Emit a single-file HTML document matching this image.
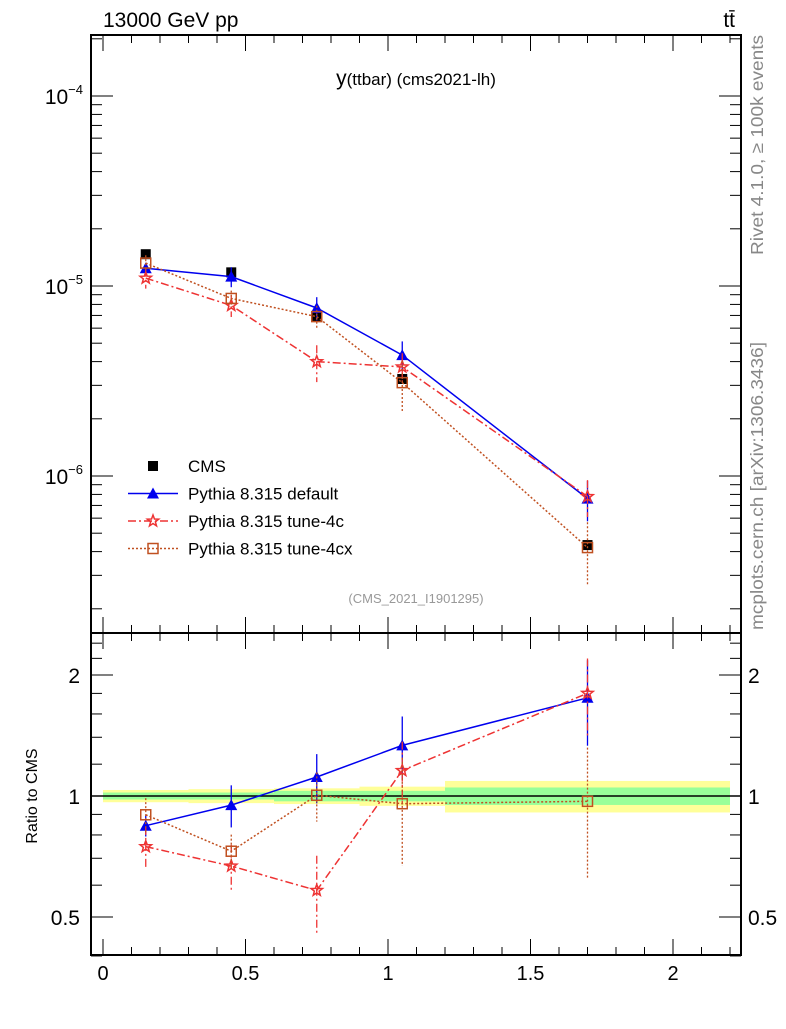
<!DOCTYPE html>
<html><head><meta charset="utf-8"><style>
body{margin:0;background:#fff;width:786px;height:1024px;overflow:hidden}
svg{font-family:"Liberation Sans",sans-serif}
</style></head><body>
<svg id="plot" width="786" height="1024" viewBox="0 0 786 1024">
<text x="103" y="27" font-size="21">13000 GeV pp</text>
<text x="735" y="27" font-size="21" text-anchor="end">tt̄</text>
<text x="416" y="85" font-size="17" text-anchor="middle"><tspan font-size="21">y</tspan>(ttbar) (cms2021-lh)</text>
<text x="416" y="603" font-size="13" fill="#999" text-anchor="middle">(CMS_2021_I1901295)</text>
<text transform="translate(763,255) rotate(-90)" font-size="17.5" fill="#888" textLength="220" lengthAdjust="spacingAndGlyphs">Rivet 4.1.0, ≥ 100k events</text>
<text transform="translate(763,630) rotate(-90)" font-size="17.5" fill="#888" textLength="288" lengthAdjust="spacingAndGlyphs">mcplots.cern.ch [arXiv:1306.3436]</text>
<text transform="translate(37,796) rotate(-90)" font-size="16" text-anchor="middle">Ratio to CMS</text>
<g id="g"></g>
</svg>
<script>
const xCenters=[0.15,0.45,0.75,1.05,1.7];
const binEdges=[0,0.3,0.6,0.9,1.2,2.2];
const cmsVals=[1.47e-5,1.18e-5,6.87e-6,3.24e-6,4.33e-7];
const defVals=[1.24e-5,1.12e-5,7.66e-6,4.33e-6,7.6e-7];
const c4Vals=[1.10e-5,7.9e-6,4.0e-6,3.75e-6,7.8e-7];
const cxVals=[1.32e-5,8.6e-6,6.9e-6,3.1e-6,4.2e-7];
const defErr=[0.06,0.12,0.14,0.18,0.24];
const c4Err=[0.12,0.13,0.22,0.18,0.22];
const cxErr=[0.1,0.1,0.14,0.3,0.36];
const bandStat=[0.02,0.02,0.03,0.03,0.05];
const bandTot=[0.035,0.04,0.045,0.055,0.09];
const xTicks=[0,0.5,1,1.5,2];
const ratioTicks=[0.5,1,2];

const NS="http://www.w3.org/2000/svg";
const G=document.getElementById('g');
function el(t,a,p){const e=document.createElementNS(NS,t);for(const k in a)e.setAttribute(k,a[k]);(p||G).appendChild(e);return e;}
const L=91,R=741,T=35,M=633,B=955;
const X=v=>103+v*285;
const Y=v=>96-(Math.log10(v)+4)*190;
const YR=v=>796-Math.log2(v)*121;

for(let i=0;i<5;i++){
 const x0=X(binEdges[i]),x1=X(binEdges[i+1]);
 const b=el('rect',{x:x0,y:YR(1+bandTot[i]),width:x1-x0,height:YR(1-bandTot[i])-YR(1+bandTot[i]),fill:'#ffff99'});
 
 
 const s=el('rect',{x:x0,y:YR(1+bandStat[i]),width:x1-x0,height:YR(1-bandStat[i])-YR(1+bandStat[i]),fill:'#99ff99'});
 
 
}
el('line',{x1:L,x2:R,y1:YR(1),y2:YR(1),stroke:'#000','stroke-width':1.5});

for(const [t,b] of [[T,M],[M,B]]){
 const f=el('rect',{x:L,y:t,width:R-L,height:b-t,fill:'none',stroke:'#000','stroke-width':2});
 
 
}
for(let v=0;v<=2.2001;v+=0.1){
 const maj=Math.abs(v*2-Math.round(v*2))<1e-6, len=maj?16:8;
 for(const [t,b] of [[T,M],[M,B]]){
  el('line',{x1:X(v),x2:X(v),y1:b,y2:b-len,stroke:'#000'});
  el('line',{x1:X(v),x2:X(v),y1:t,y2:t+len,stroke:'#000'});
 }
}
xTicks.forEach(v=>{const t=el('text',{x:X(v),y:980,'font-size':20,'text-anchor':'middle'});t.textContent=v;
 });
for(let d=-7;d<=-4;d++)for(let m=1;m<10;m++){
 const v=m*Math.pow(10,d),y=Y(v); if(y<T||y>M)continue;
 const len=m==1?22:11;
 el('line',{x1:L,x2:L+len,y1:y,y2:y,stroke:'#000'});el('line',{x1:R,x2:R-len,y1:y,y2:y,stroke:'#000'});
 if(m==1){const t=el('text',{x:83,y:y+8,'font-size':21,'text-anchor':'end'});t.innerHTML='10<tspan dy="-10" font-size="13">−'+(-d)+'</tspan>';
  }
}
[0.4,0.6,0.7,0.8,0.9,1.2,1.4,1.6,1.8,2.2,2.4].forEach(v=>{const y=YR(v);
 el('line',{x1:L,x2:L+11,y1:y,y2:y,stroke:'#000'});el('line',{x1:R,x2:R-11,y1:y,y2:y,stroke:'#000'});});
ratioTicks.forEach(v=>{const y=YR(v);
 el('line',{x1:L,x2:L+22,y1:y,y2:y,stroke:'#000'});el('line',{x1:R,x2:R-22,y1:y,y2:y,stroke:'#000'});
 const t=el('text',{x:80,y:y+8,'font-size':21,'text-anchor':'end'});t.textContent=v;
 
 const t2=el('text',{x:748,y:y+8,'font-size':21});t2.textContent=v;
 });

function marker(kind,x,y,col,name){
 let m;
 if(kind=='sq')m=el('rect',{x:x-5,y:y-5,width:10,height:10,fill:'#000'});
 if(kind=='tri')m=el('path',{d:`M${x} ${y-6}L${x+6} ${y+5}L${x-6} ${y+5}Z`,fill:col});
 if(kind=='osq')m=el('rect',{x:x-5,y:y-5,width:10,height:10,fill:'none',stroke:col,'stroke-width':1.5});
 if(kind=='star'){let p='';for(let i=0;i<10;i++){const r=i%2?2.5:6,a=-Math.PI/2+i*Math.PI/5;p+=(i?'L':'M')+(x+r*Math.cos(a))+' '+(y+r*Math.sin(a));}
  m=el('path',{d:p+'Z',fill:'none',stroke:col,'stroke-width':1.5});}
 
 
}
const series=[
 {vals:defVals,err:defErr,col:'#0000ee',dash:'',kind:'tri',name:'default'},
 {vals:c4Vals,err:c4Err,col:'#ee3333',dash:'8,3,2,3',kind:'star',name:'tune-4c'},
 {vals:cxVals,err:cxErr,col:'#c05020',dash:'2,2',kind:'osq',name:'tune-4cx'}];
cmsVals.forEach((v,i)=>marker('sq',X(xCenters[i]),Y(v),'#000','cms-point'));
series.forEach(s=>{
 for(const panel of ['main','ratio']){
  const yv=i=>panel=='main'?Y(s.vals[i]):YR(s.vals[i]/cmsVals[i]);
  const yr=(i,f)=>panel=='main'?Y(s.vals[i]*f):YR(s.vals[i]/cmsVals[i]*f);
  const ln=el('polyline',{points:xCenters.map((x,i)=>X(x)+','+yv(i)).join(' '),fill:'none',stroke:s.col,'stroke-width':1.5,'stroke-dasharray':s.dash});
  
  
  xCenters.forEach((x,i)=>{
   const e=el('line',{x1:X(x),x2:X(x),y1:yr(i,1+s.err[i]),y2:yr(i,1-s.err[i]),stroke:s.col,'stroke-width':1.3,'stroke-dasharray':s.dash});
   
   
   marker(s.kind,X(x),yv(i),s.col,s.name+'-'+panel+'-point');
  });
 }
});
const leg=[['CMS','sq','#000',''],['Pythia 8.315 default','tri','#0000ee',''],['Pythia 8.315 tune-4c','star','#ee3333','8,3,2,3'],['Pythia 8.315 tune-4cx','osq','#c05020','2,2']];
leg.forEach((l,i)=>{const y=466+i*27.5;
 if(l[1]!='sq')el('line',{x1:128,x2:178,y1:y,y2:y,stroke:l[2],'stroke-width':1.5,'stroke-dasharray':l[3]});
 marker(l[1],153,y,l[2],'legend-marker');
 const t=el('text',{x:188,y:y+6,'font-size':17});t.textContent=l[0];
 });
</script>
</body></html>
